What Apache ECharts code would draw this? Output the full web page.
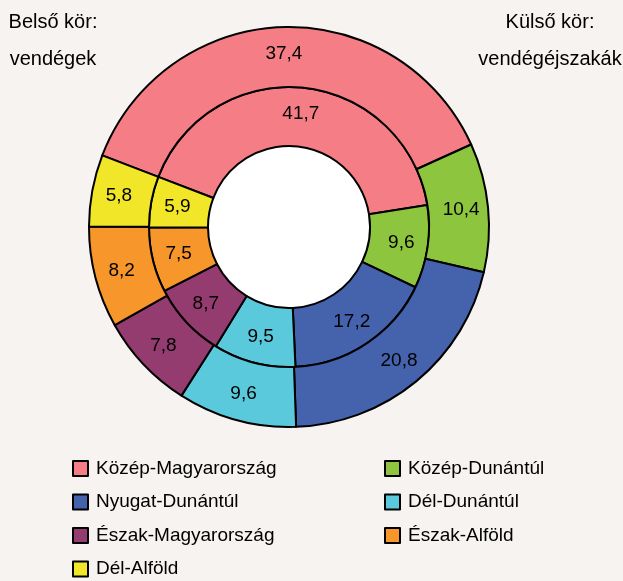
<!DOCTYPE html>
<html>
<head>
<meta charset="utf-8">
<script src="https://cdn.jsdelivr.net/npm/echarts@6/dist/echarts.min.js"></script>
<style>
html,body{margin:0;padding:0;background:#F6F3F0;}
#chart{width:623px;height:581px;}
</style>
</head>
<body>
<div id="chart"></div>
<script>
// Regions (categories), in drawing order
var regions = ['Közép-Magyarország','Közép-Dunántúl','Nyugat-Dunántúl','Dél-Dunántúl','Észak-Magyarország','Észak-Alföld','Dél-Alföld'];
// Inner ring: guests (vendégek), %
var guests = [41.7, 9.6, 17.2, 9.5, 8.7, 7.5, 5.9];
// Outer ring: guest nights (vendégéjszakák), %
var nights = [37.4, 10.4, 20.8, 9.6, 7.8, 8.2, 5.8];
var colors = ['#F57E86','#8DC53F','#4463AC','#5BC9DC','#943B6F','#F7962B','#F1E627'];
var legendLeft = ['Közép-Magyarország','Nyugat-Dunántúl','Észak-Magyarország','Dél-Alföld'];
var legendRight = ['Közép-Dunántúl','Dél-Dunántúl','Észak-Alföld'];

var FONT = '"Liberation Sans", Arial, sans-serif';
function mk(vals){
  return regions.map(function(r,i){ return {name:r, value:vals[i], itemStyle:{color:colors[i]}}; });
}
var labelCfg = {
  show:true, position:'inside', color:'#000', fontSize:19, fontFamily:FONT,
  formatter:function(p){ return String(p.value).replace('.', ','); }
};
var common = {
  type:'pie', center:[289,227], startAngle:159, clockwise:true,
  avoidLabelOverlap:false, silent:true, animation:false,
  itemStyle:{borderColor:'#000', borderWidth:2},
  label:labelCfg, labelLine:{show:false}, emphasis:{disabled:true}
};

var chart = echarts.init(document.getElementById('chart'), null, {renderer:'canvas'});
chart.setOption({
  backgroundColor:'#F6F3F0',
  animation:false,
  title:[
    {text:'Belső kör:\nvendégek', left:53, top:4, padding:0, textAlign:'center',
     textStyle:{fontSize:20, fontWeight:'normal', color:'#000', fontFamily:FONT, lineHeight:37}},
    {text:'Külső kör:\nvendégéjszakák', left:550, top:4, padding:0, textAlign:'center',
     textStyle:{fontSize:20, fontWeight:'normal', color:'#000', fontFamily:FONT, lineHeight:37}}
  ],
  legend:[
    {data:legendLeft, orient:'vertical', left:72, top:459, padding:0, itemGap:14.5,
     itemWidth:15, itemHeight:15, icon:'rect', selectedMode:false,
     textStyle:{fontSize:19, color:'#000', fontFamily:FONT, padding:[0,0,0,3]}},
    {data:legendRight, orient:'vertical', left:384, top:459, padding:0, itemGap:14.5,
     itemWidth:15, itemHeight:15, icon:'rect', selectedMode:false,
     textStyle:{fontSize:19, color:'#000', fontFamily:FONT, padding:[0,0,0,3]}}
  ],
  series:[
    {type:'pie', center:[289,227], radius:[0,81], silent:true, animation:false,
     label:{show:false}, labelLine:{show:false}, emphasis:{disabled:true},
     itemStyle:{color:'#FFFFFF', borderWidth:0}, data:[{name:'hole', value:1}]},
    Object.assign({}, common, {name:'vendégek', radius:[81,140], data:mk(guests)}),
    Object.assign({}, common, {name:'vendégéjszakák', radius:[140,200], data:mk(nights)})
  ]
});
</script>
</body>
</html>
